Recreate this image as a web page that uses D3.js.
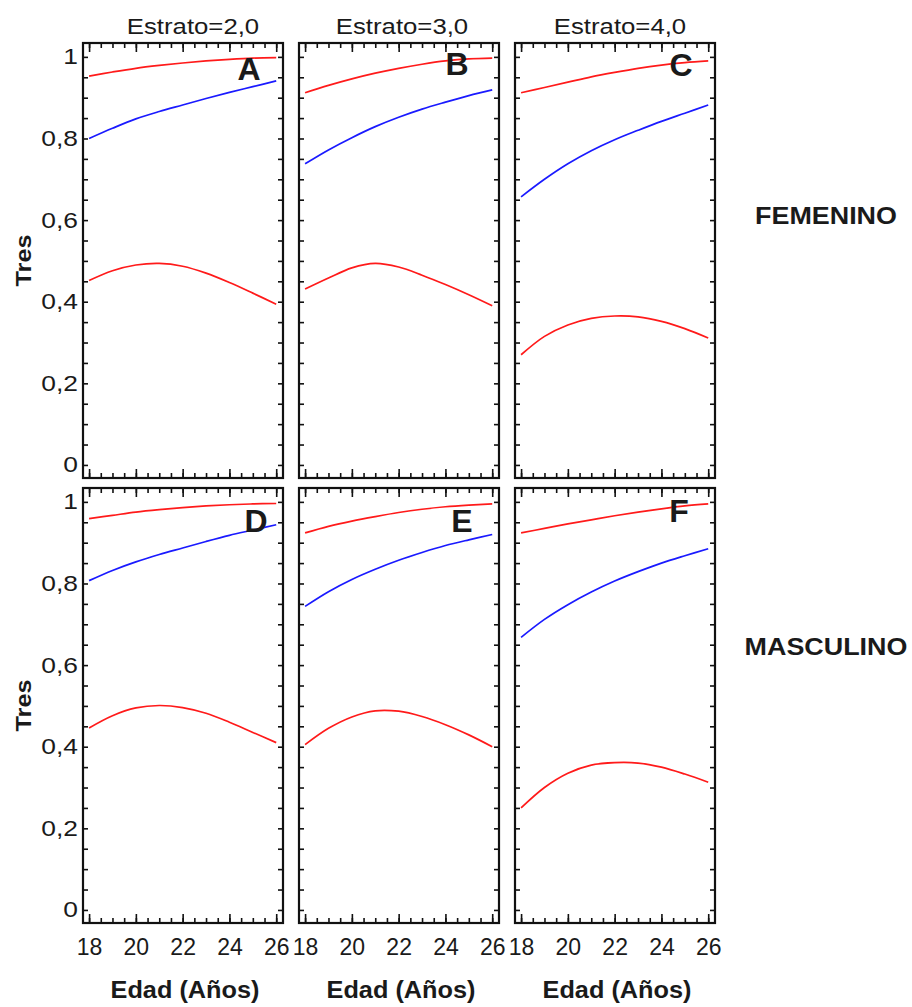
<!DOCTYPE html>
<html><head><meta charset="utf-8">
<script src="https://cdn.jsdelivr.net/npm/d3@7/dist/d3.min.js"></script>
<style>
html,body{margin:0;padding:0;background:#fff;}
text{font-family:"Liberation Sans",Arial,sans-serif;fill:#1a1a1a;}
</style></head>
<body>
<svg id="chart" width="912" height="1007"></svg>
<script>
// ---- data ----
const strata = ["Estrato=2,0", "Estrato=3,0", "Estrato=4,0"];
const sexes = ["FEMENINO", "MASCULINO"];
const panelLetters = ["A", "B", "C", "D", "E", "F"];
const ages = [18, 19, 20, 21, 22, 23, 24, 25, 26];
const yTickLabels = ["0", "0,2", "0,4", "0,6", "0,8", "1"];
const yTickValues = [0, 0.2, 0.4, 0.6, 0.8, 1];
const xTickValues = [18, 20, 22, 24, 26];
const yLabel = "Tres";
const xLabel = "Edad (Años)";

// upper red curve per panel (A..F)
const upperRed = [
  [0.953, 0.963, 0.972, 0.979, 0.985, 0.990, 0.994, 0.997, 0.998],
  [0.912, 0.930, 0.946, 0.960, 0.972, 0.982, 0.990, 0.995, 0.997],
  [0.912, 0.925, 0.938, 0.951, 0.962, 0.972, 0.980, 0.986, 0.990],
  [0.959, 0.967, 0.975, 0.981, 0.986, 0.990, 0.993, 0.995, 0.996],
  [0.924, 0.940, 0.953, 0.964, 0.974, 0.982, 0.988, 0.992, 0.995],
  [0.924, 0.935, 0.946, 0.956, 0.966, 0.975, 0.983, 0.990, 0.995]
];
// middle blue curve per panel
const blueMid = [
  [0.800, 0.825, 0.848, 0.866, 0.882, 0.898, 0.913, 0.927, 0.941],
  [0.738, 0.772, 0.802, 0.829, 0.852, 0.872, 0.889, 0.905, 0.919],
  [0.657, 0.700, 0.738, 0.770, 0.797, 0.820, 0.842, 0.862, 0.882],
  [0.807, 0.832, 0.853, 0.871, 0.887, 0.903, 0.918, 0.931, 0.944],
  [0.744, 0.780, 0.810, 0.835, 0.857, 0.876, 0.893, 0.907, 0.920],
  [0.668, 0.712, 0.748, 0.779, 0.806, 0.829, 0.850, 0.868, 0.885]
];
// lower red curve per panel
const lowerRed = [
  [0.452, 0.476, 0.490, 0.494, 0.487, 0.470, 0.447, 0.421, 0.394],
  [0.431, 0.458, 0.483, 0.494, 0.485, 0.465, 0.442, 0.417, 0.390],
  [0.270, 0.315, 0.343, 0.359, 0.365, 0.363, 0.352, 0.334, 0.311],
  [0.446, 0.476, 0.495, 0.501, 0.496, 0.482, 0.460, 0.435, 0.410],
  [0.405, 0.445, 0.473, 0.488, 0.487, 0.474, 0.454, 0.429, 0.400],
  [0.250, 0.300, 0.335, 0.355, 0.361, 0.360, 0.350, 0.333, 0.313]
];

// ---- layout ----
const svg = d3.select("#chart");
const panelX = [83, 299, 515], panelY = [43, 488];
const pw = 200, ph = 435;
const letterPos = [[166, 37], [158, 32], [166, 33], [173, 44], [163, 44], [164, 34]];
const titleDx = [10, 3, 5];

const x = d3.scaleLinear().domain([17.74, 26.29]).range([0, pw]);
const y = d3.scaleLinear().domain([-0.032, 1.034]).range([ph, 0]);
const line = d3.line().x((d, i) => x(ages[i])).y(d => y(d)).curve(d3.curveCatmullRom.alpha(0.5));

const yMinor = d3.range(0, 1.0001, 0.05);
const xMinor = d3.range(18, 26.0001, 0.5);

function styleAxis(g) {
  g.select(".domain").remove();
  g.selectAll(".tick line").attr("stroke", "#111").attr("stroke-width", 1.6);
}

for (let r = 0; r < 2; r++) {
  for (let c = 0; c < 3; c++) {
    const idx = r * 3 + c;
    const g = svg.append("g").attr("transform", `translate(${panelX[c]},${panelY[r]})`);

    [[upperRed[idx], "#ff1a1a"], [blueMid[idx], "#1a1aff"], [lowerRed[idx], "#ff1a1a"]].forEach(([vals, col]) => {
      g.append("path").attr("d", line(vals)).attr("fill", "none")
        .attr("stroke", col).attr("stroke-width", 1.7);
    });

    g.append("g").call(d3.axisLeft(y).tickValues(yMinor).tickSizeInner(-5).tickSizeOuter(0).tickFormat("")).call(styleAxis);
    g.append("g").attr("transform", `translate(${pw},0)`)
      .call(d3.axisRight(y).tickValues(yMinor).tickSizeInner(-5).tickSizeOuter(0).tickFormat("")).call(styleAxis);
    g.append("g").attr("transform", `translate(0,${ph})`)
      .call(d3.axisBottom(x).tickValues(xMinor).tickSizeInner(-5).tickSizeOuter(0).tickFormat("")).call(styleAxis);
    g.append("g")
      .call(d3.axisTop(x).tickValues(xMinor).tickSizeInner(-5).tickSizeOuter(0).tickFormat("")).call(styleAxis);
    g.append("g").attr("transform", `translate(0,${ph})`)
      .call(d3.axisBottom(x).tickValues(xTickValues).tickSizeInner(-9).tickSizeOuter(0).tickFormat("")).call(styleAxis);
    g.append("g")
      .call(d3.axisTop(x).tickValues(xTickValues).tickSizeInner(-9).tickSizeOuter(0).tickFormat("")).call(styleAxis);

    g.append("rect").attr("x", 0).attr("y", 0).attr("width", pw).attr("height", ph)
      .attr("fill", "none").attr("stroke", "#111").attr("stroke-width", 2.2);

    if (c === 0) {
      const ya = g.append("g").call(d3.axisLeft(y).tickValues(yTickValues).tickSizeInner(0).tickSizeOuter(0)
        .tickPadding(5).tickFormat((d, i) => yTickLabels[i]));
      ya.select(".domain").remove();
      ya.selectAll("text").attr("font-size", 22).attr("class", "stretch").attr("data-k", 1.2)
        .style("font-family", '"Liberation Sans",Arial,sans-serif').attr("fill", "#1a1a1a");
    }
    if (r === 1) {
      const xa = g.append("g").attr("transform", `translate(0,${ph})`)
        .call(d3.axisBottom(x).tickValues(xTickValues).tickSizeInner(0).tickSizeOuter(0).tickPadding(16).tickFormat(d3.format("d")));
      xa.select(".domain").remove();
      xa.selectAll("text").attr("font-size", 23).style("font-family", '"Liberation Sans",Arial,sans-serif').attr("fill", "#1a1a1a");
      g.append("text").attr("x", pw / 2 + 2).attr("y", 510)
        .attr("text-anchor", "middle").attr("font-size", 23).attr("font-weight", "bold")
        .attr("class", "stretch").attr("data-k", 1.1)
        .text(xLabel);
    }
    g.append("text").attr("x", letterPos[idx][0]).attr("y", letterPos[idx][1])
      .attr("text-anchor", "middle").attr("font-size", 32).attr("font-weight", "bold").attr("fill", "#000")
      .text(panelLetters[idx]);
    if (r === 0) {
      g.append("text").attr("x", pw / 2 + titleDx[c]).attr("y", -9)
        .attr("text-anchor", "middle").attr("font-size", 22)
        .attr("class", "stretch").attr("data-k", 1.17)
        .text(strata[c]);
    }
    if (c === 0) {
      g.append("text").attr("transform", `translate(-52,${ph / 2}) rotate(-90)`)
        .attr("text-anchor", "middle").attr("font-size", 22).attr("font-weight", "bold")
        .attr("class", "stretch").attr("data-k", 1.15)
        .text(yLabel);
    }
  }
  svg.append("text").attr("x", 826).attr("y", panelY[r] + (r === 0 ? 181 : 167))
    .attr("text-anchor", "middle").attr("font-size", 24).attr("font-weight", "bold")
    .attr("class", "stretch").attr("data-k", 1.12)
    .text(sexes[r]);
}

// widen text horizontally to match the reference's proportions
svg.selectAll("text.stretch").each(function () {
  const k = +this.getAttribute("data-k");
  const len = this.getComputedTextLength();
  this.setAttribute("textLength", (len * k).toFixed(1));
  this.setAttribute("lengthAdjust", "spacingAndGlyphs");
});
</script>
</body></html>
